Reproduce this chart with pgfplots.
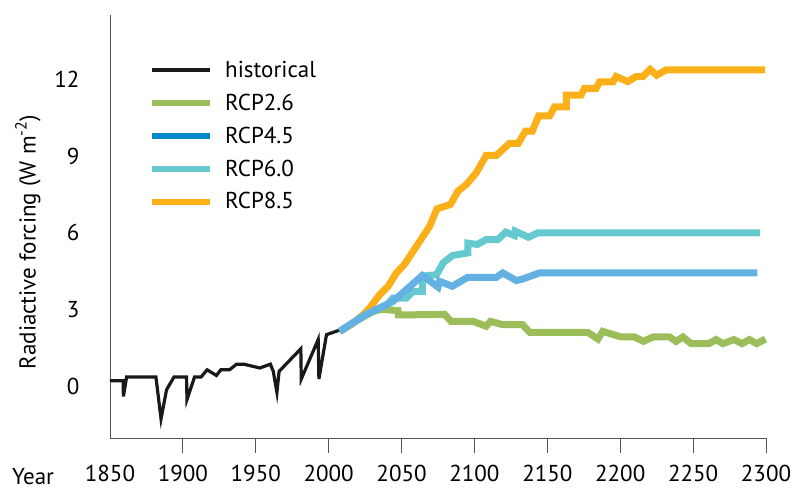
\documentclass[border=0pt]{standalone}
\usepackage{pgfplots}
\pgfplotsset{compat=1.18}
\usepackage{fontspec}
\setmainfont{PT Sans}
\definecolor{cgreen}{HTML}{9BBE5B}
\definecolor{corange}{HTML}{FBB01A}
\definecolor{ccyan}{HTML}{66C9CF}
\definecolor{cblue}{HTML}{62B1E2}
\definecolor{cbluel}{HTML}{0088CC}
\definecolor{caxis}{HTML}{555555}
\begin{document}
\begin{tikzpicture}
\useasboundingbox (-110pt,-51pt) rectangle (685pt,438pt);
\begin{axis}[
  scale only axis, width=656pt, height=423pt,
  xmin=1850, xmax=2300, ymin=-2, ymax=14.5,
  axis x line=bottom, axis y line=left,
  axis line style={-, caxis, line width=0.9pt},
  clip=false,
  font=\fontsize{23}{27}\selectfont,
  xtick={1900,1950,...,2300},
  extra x ticks={1850},
  extra x tick style={xtick style={draw=none}},
  xticklabel style={/pgf/number format/1000 sep={}, anchor=base, inner sep=0pt, yshift=-29pt},
  x tick label style={/pgf/number format/1000 sep={}},
  tick align=outside,
  major tick length=15pt,
  xtick style={caxis, line width=0.9pt},
  ytick={0,3,6,9,12},
  ytick style={draw=none},
  yticklabel style={xshift=-12pt},
  /pgf/number format/assume math mode=true,
  legend style={at={(0.0595,0.896)}, anchor=north west, draw=none, fill=none,
    inner sep=0pt, row sep=11pt, column sep=10pt, font=\fontsize{23}{27}\selectfont,
    nodes={inner sep=2pt}},
  legend cell align=left,
  legend image code/.code={\draw[#1] (0pt,0pt) -- (58pt,0pt);},
]
\addlegendimage{black!90, line width=3.2pt}
\addlegendentry{historical}
\addlegendimage{cgreen, line width=6pt}
\addlegendentry{RCP2.6}
\addlegendimage{cbluel, line width=6pt}
\addlegendentry{RCP4.5}
\addlegendimage{ccyan, line width=6pt}
\addlegendentry{RCP6.0}
\addlegendimage{corange, line width=6pt}
\addlegendentry{RCP8.5}

\addplot[forget plot, black!90, line width=3.2pt, line join=miter] coordinates {
(1850,0.23) (1859,0.23) (1859.2,-0.38) (1861.4,0.38) (1881.5,0.38) (1885,-1.25)
(1888.8,-0.12) (1893.9,0.38) (1902.5,0.38) (1902.8,-0.5) (1908,0.38) (1912.5,0.38)
(1916.6,0.66) (1923,0.44) (1926,0.66) (1932,0.66) (1936.8,0.88) (1941.8,0.88)
(1952.8,0.73) (1960,0.88) (1962,0.6) (1964.5,-0.22) (1966,0.6) (1980.9,1.48)
(1981.2,0.3) (1992.8,1.84) (1993.3,0.3) (1998.5,2.03) (2006.5,2.19) (2008,2.2)
};
\addplot[forget plot, cgreen, line width=7pt, line join=miter] coordinates {
(2007.6,2.16) (2020,2.6) (2030,2.92) (2036,3.02) (2047.6,2.97) (2047.8,2.8)
(2079.6,2.82) (2084,2.55) (2099,2.55) (2108,2.36) (2111,2.55) (2119.5,2.42)
(2133,2.42) (2138,2.12) (2177.8,2.12) (2184.7,1.86) (2188,2.16) (2200.6,1.94)
(2209.8,1.94) (2216,1.77) (2222.4,1.94) (2233.8,1.94) (2238.4,1.77) (2243,1.94)
(2248.6,1.68) (2260.7,1.68) (2265.8,1.84) (2270.3,1.68) (2278,1.84) (2283.6,1.68)
(2288.6,1.84) (2293.6,1.68) (2299.6,1.86)
};
\addplot[forget plot, corange, line width=7pt, line join=miter] coordinates {
(2007.6,2.16) (2016,2.45) (2023.5,2.8) (2028,3.07) (2035,3.59) (2040.8,3.92)
(2046.5,4.44) (2052,4.77) (2069.3,6.26) (2074.3,6.94) (2083.5,7.11) (2088.7,7.63)
(2094.5,7.89) (2101.3,8.35) (2108,9.02) (2115,9.02) (2124,9.49) (2130,9.49)
(2135,9.97) (2139.7,9.97) (2144,10.56) (2151.6,10.56) (2155,10.92) (2163,10.92)
(2163,11.37) (2173,11.37) (2175.5,11.64) (2183.5,11.64) (2185.8,11.89) (2195,11.89)
(2197.2,12.1) (2205.2,11.9) (2210.9,12.1) (2215.5,12.1) (2220.5,12.38) (2225,12.15)
(2231.5,12.36) (2299.4,12.36)
};
\addplot[forget plot, ccyan, line width=7pt, line join=miter] coordinates {
(2007.6,2.16) (2025,2.8) (2040,3.2) (2044.2,3.46) (2053.3,3.46) (2058,3.72)
(2064.3,3.72) (2064.3,4.31) (2074,4.37) (2078.5,4.83) (2085,5.12) (2095.5,5.22)
(2095.5,5.6) (2102,5.55) (2108,5.74) (2116,5.74) (2121.5,6.03) (2127.5,5.9)
(2128,6.07) (2137,5.83) (2143.5,6.0) (2296,6.0)
};
\addplot[forget plot, cblue, line width=7pt, line join=miter] coordinates {
(2007.6,2.16) (2025,2.8) (2044.2,3.33) (2064.3,4.34) (2075,3.89) (2076,4.11)
(2084.8,3.92) (2095.5,4.27) (2115,4.27) (2119.5,4.44) (2128.7,4.14) (2133,4.2)
(2144.7,4.44) (2294,4.44)
};
\end{axis}
\node[anchor=base west, inner sep=0pt, font=\fontsize{23}{27}\selectfont] at (-98pt,-47pt) {Year};
\node[rotate=90, font=\fontsize{23}{27}\selectfont] at (-82pt,196pt) {Radiactive forcing (W m\textsuperscript{-2})};
\end{tikzpicture}
\end{document}
